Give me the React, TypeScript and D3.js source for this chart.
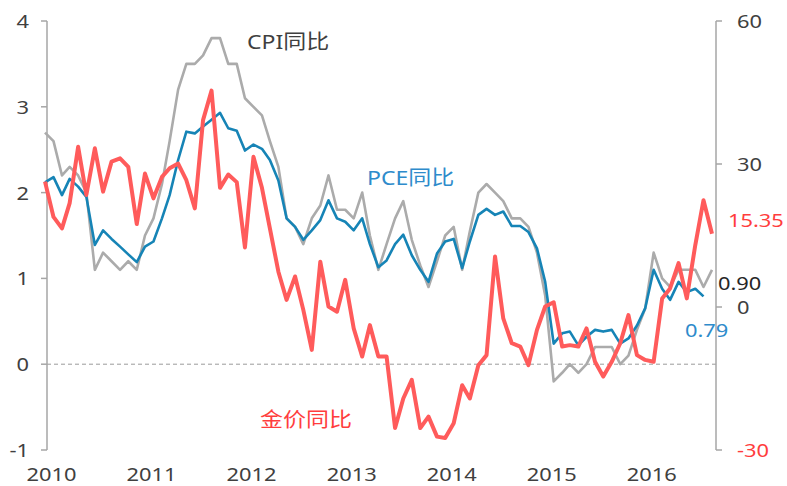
import React, { useEffect, useRef } from "react";
import * as d3 from "d3";

// monthly points, Dec 2009 .. Aug 2016
const months = d3.timeMonth.range(new Date(2009, 11, 1), new Date(2016, 8, 1));
const years = [2010, 2011, 2012, 2013, 2014, 2015, 2016];

const leftTicks = [-1, 0, 1, 2, 3, 4];
const rightTicks = [-30, 0, 30, 60];

// CPI YoY, %
const cpiYoY = [
  2.7, 2.6, 2.2, 2.3, 2.2, 2.0, 1.1, 1.3, 1.2, 1.1, 1.2, 1.1,
  1.5, 1.7, 2.1, 2.6, 3.2, 3.5, 3.5, 3.6, 3.8, 3.8, 3.5, 3.5,
  3.1, 3.0, 2.9, 2.6, 2.3, 1.7, 1.6, 1.4, 1.7, 1.85, 2.2, 1.8,
  1.8, 1.7, 2.0, 1.5, 1.1, 1.4, 1.7, 1.9, 1.45, 1.15, 0.9, 1.2,
  1.5, 1.6, 1.1, 1.55, 2.0, 2.1, 2.0, 1.9, 1.7, 1.7, 1.6, 1.3,
  0.8, -0.2, -0.1, 0.0, -0.1, 0.0, 0.2, 0.2, 0.2, 0.0, 0.1, 0.4,
  0.65, 1.3, 1.0, 0.9, 1.1, 1.1, 1.1, 0.9, 1.1,
];

// PCE YoY, % (one month shorter)
const pceYoY = [
  2.12, 2.18, 1.97, 2.16, 2.07, 1.95, 1.39, 1.56, 1.46, 1.37, 1.28, 1.19,
  1.37, 1.43, 1.7, 1.97, 2.38, 2.71, 2.69, 2.77, 2.85, 2.93, 2.75, 2.72,
  2.49, 2.56, 2.51, 2.38, 2.14, 1.7, 1.6, 1.45, 1.56, 1.68, 1.91, 1.7,
  1.66, 1.56, 1.7, 1.4, 1.13, 1.21, 1.4, 1.51, 1.27, 1.1, 0.96, 1.29,
  1.43, 1.46, 1.12, 1.43, 1.74, 1.81, 1.74, 1.78, 1.61, 1.61, 1.54, 1.35,
  0.96, 0.24, 0.36, 0.38, 0.22, 0.32, 0.4, 0.38, 0.4, 0.24, 0.3, 0.45,
  0.65, 1.1, 0.88, 0.75, 0.96, 0.84, 0.88, 0.79,
];

// gold price YoY, % (right axis)
const goldYoY = [
  26.3, 18.9, 16.5, 21.8, 33.6, 23.5, 33.3, 24.2, 30.5, 31.2, 29.4, 17.4,
  28.0, 22.8, 27.3, 29.1, 30.1, 26.6, 20.7, 39.2, 45.4, 25.0, 27.8, 26.2,
  12.5, 31.5, 25.0, 16.5, 7.4, 1.5, 6.4, -0.6, -9.0, 9.5, 0.1, -1.0,
  5.7, -4.5, -10.4, -3.8, -10.4, -10.4, -25.4, -19.2, -15.3, -25.4, -23.0, -27.2,
  -27.5, -24.4, -16.4, -19.2, -12.2, -10.1, 10.6, -2.4, -7.6, -8.3, -12.2, -4.8,
  0.1, 1.0, -8.3, -8.0, -8.3, -4.5, -11.5, -14.6, -11.5, -7.6, -1.7, -10.1,
  -11.1, -11.5, 1.8, 3.9, 9.2, 1.8, 13.0, 22.4, 15.35,
];

const width = 787;
const height = 486;
const SX = 1.15; // the original text is a bit wide

const colors = {
  axis: "#a6a6a6",
  tick: "#404040",
  cpi: "#ababab",
  pce: "#1684b6",
  pceText: "#2e8bcb",
  gold: "#ff5b5b",
  goldText: "#ff3d3d",
};

function App() {
  const ref = useRef<SVGSVGElement>(null);

  useEffect(() => {
    const svg = d3.select(ref.current);
    svg.selectAll("*").remove();

    const xScale = d3.scaleTime().domain([months[0], months[months.length - 1]]).range([45, 712]);
    const yLeft = d3.scaleLinear().domain([-1, 4]).range([450, 21]);
    const yRight = d3.scaleLinear().domain([-30, 60]).range([450, 21]);

    const addText = (x: number, y: number, str: string, color: string, size: number, anchor = "start") => {
      svg.append("text")
        .attr("transform", `translate(${x},${y}) scale(${SX},1)`)
        .attr("text-anchor", anchor)
        .attr("fill", color)
        .attr("font-size", size)
        .text(str);
    };

    // zero line
    svg.append("line")
      .attr("x1", 47).attr("x2", 716)
      .attr("y1", yLeft(0)).attr("y2", yLeft(0))
      .attr("stroke", "#9a9a9a")
      .attr("stroke-dasharray", "4,3");

    // left axis
    svg.append("line")
      .attr("x1", 47).attr("x2", 47)
      .attr("y1", yLeft(4)).attr("y2", yLeft(-1))
      .attr("stroke", colors.axis).attr("stroke-width", 1.5);
    leftTicks.forEach((t) => {
      svg.append("line")
        .attr("x1", 41).attr("x2", 47)
        .attr("y1", yLeft(t)).attr("y2", yLeft(t))
        .attr("stroke", colors.axis).attr("stroke-width", 1.5);
      addText(29, yLeft(t) + 7, String(t), colors.tick, 19, "end");
    });

    // right axis
    svg.append("line")
      .attr("x1", 716).attr("x2", 716)
      .attr("y1", yRight(60)).attr("y2", yRight(-30))
      .attr("stroke", colors.axis).attr("stroke-width", 1.5);
    rightTicks.forEach((t) => {
      svg.append("line")
        .attr("x1", 716).attr("x2", 722)
        .attr("y1", yRight(t)).attr("y2", yRight(t))
        .attr("stroke", colors.axis).attr("stroke-width", 1.5);
      addText(737, yRight(t) + 7, String(t), t < 0 ? colors.goldText : colors.tick, 19);
    });

    // years
    years.forEach((yr) => {
      addText(xScale(new Date(yr, 0, 1)) - 2, 481, String(yr), colors.tick, 19, "middle");
    });

    // series
    const lineLeft = d3.line<number>()
      .x((d, i) => xScale(months[i]))
      .y((d) => yLeft(d));
    const lineRight = d3.line<number>()
      .x((d, i) => xScale(months[i]))
      .y((d) => yRight(d));

    svg.append("path").datum(cpiYoY)
      .attr("d", lineLeft).attr("fill", "none")
      .attr("stroke", colors.cpi).attr("stroke-width", 2.6)
      .attr("stroke-linejoin", "round");
    svg.append("path").datum(pceYoY)
      .attr("d", lineLeft).attr("fill", "none")
      .attr("stroke", colors.pce).attr("stroke-width", 2.6)
      .attr("stroke-linejoin", "round");
    svg.append("path").datum(goldYoY)
      .attr("d", lineRight).attr("fill", "none")
      .attr("stroke", colors.gold).attr("stroke-width", 4)
      .attr("stroke-linejoin", "round");

    // labels
    addText(247, 49, "CPI同比", "#3f3f3f", 20);
    addText(367, 185, "PCE同比", colors.pceText, 20);
    addText(260, 427, "金价同比", colors.goldText, 20);
    addText(728, 227, "15.35", colors.goldText, 19);
    addText(718, 290, "0.90", "#262626", 19);
    addText(685, 337, "0.79", colors.pceText, 19);
  }, []);

  return (
    <svg
      ref={ref}
      width={width}
      height={height}
      style={{ position: "absolute", left: 0, top: 0, background: "#fff" }}
      fontFamily="'Noto Sans', 'Noto Sans CJK SC', sans-serif"
    />
  );
}

export default App;
